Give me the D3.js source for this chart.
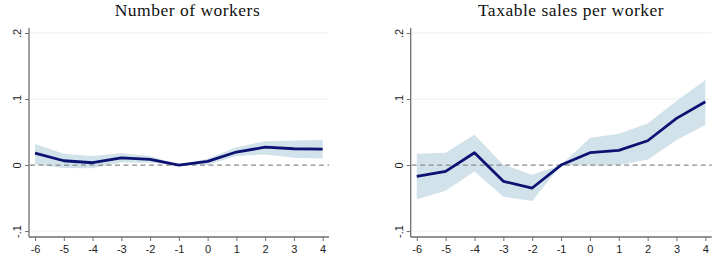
<!DOCTYPE html>
<html>
<head>
<meta charset="utf-8">
<script src="https://cdn.jsdelivr.net/npm/d3@7"></script>
<style>
  body { margin: 0; background: #fff; }
  svg { display: block; }
</style>
</head>
<body>
<svg id="chart" width="721" height="265"></svg>
<script>
// event time and estimates
const periods = [-6, -5, -4, -3, -2, -1, 0, 1, 2, 3, 4];

const workersEst   = [0.018, 0.0065, 0.0035, 0.011, 0.0086, 0, 0.0056, 0.0197, 0.027, 0.0247, 0.0242];
const workersLow   = [0.001, -0.0045, -0.005, 0.004, 0.0035, 0, 0.0005, 0.0136, 0.016, 0.011, 0.010];
const workersHigh  = [0.032, 0.017, 0.0136, 0.018, 0.0136, 0, 0.0096, 0.027, 0.036, 0.037, 0.038];

const salesEst  = [-0.0172, -0.0096, 0.0187, -0.0247, -0.0348, 0, 0.0187, 0.0222, 0.0368, 0.0707, 0.096];
const salesLow  = [-0.052, -0.039, -0.0096, -0.048, -0.0545, 0, -0.0005, 0, 0.008, 0.038, 0.0606];
const salesHigh = [0.017, 0.0187, 0.046, 0.0005, -0.0146, 0, 0.041, 0.0475, 0.063, 0.097, 0.129];

const yTicks = [-0.1, 0, 0.1, 0.2];
const yTickLabels = ["-.1", "0", ".1", ".2"];

const panels = [
  { title: "Number of workers", est: workersEst, low: workersLow, high: workersHigh, x0: 29, x1: 329, cx: 187.5 },
  { title: "Taxable sales per worker", est: salesEst, low: salesLow, high: salesHigh, x0: 410.7, x1: 711.7, cx: 571 }
];

const svg = d3.select("#chart");
const yTop = 28, yBot = 237;

for (const p of panels) {
  const x = d3.scaleLinear().domain([-6.21, 4.22]).range([p.x0, p.x1]);
  const y = d3.scaleLinear().domain([-0.109, 0.2076]).range([yBot, yTop]);
  const g = svg.append("g");

  // grid
  g.append("g")
    .selectAll("line")
    .data(yTicks.filter(d => d !== 0))
    .join("line")
    .attr("x1", p.x0 + 1)
    .attr("x2", p.x1)
    .attr("y1", d => y(d))
    .attr("y2", d => y(d))
    .attr("stroke", "#eaf0f2")
    .attr("stroke-width", 1);

  const rows = periods.map((t, i) => ({ t, est: p.est[i], low: p.low[i], high: p.high[i] }));

  // confidence band
  g.append("path")
    .datum(rows)
    .attr("fill", "#d1e2ea")
    .attr("d", d3.area().x(d => x(d.t)).y0(d => y(d.low)).y1(d => y(d.high)));

  // zero reference
  g.append("line")
    .attr("x1", p.x0 + 1)
    .attr("x2", p.x1)
    .attr("y1", y(0))
    .attr("y2", y(0))
    .attr("stroke", "#8a8a8a")
    .attr("stroke-width", 1.2)
    .attr("stroke-dasharray", "5,3.5");

  // estimate line
  g.append("path")
    .datum(rows)
    .attr("fill", "none")
    .attr("stroke", "#0b1272")
    .attr("stroke-width", 2.8)
    .attr("stroke-linejoin", "round")
    .attr("d", d3.line().x(d => x(d.t)).y(d => y(d.est)));

  // axes
  const yAxis = g.append("g")
    .attr("transform", `translate(${p.x0},0)`)
    .call(d3.axisLeft(y).tickValues(yTicks).tickFormat((d, i) => yTickLabels[i]).tickSize(4).tickPadding(6));
  yAxis.select(".domain").attr("d", `M0,${yTop}V${yBot}`).attr("stroke", "#6e6e6e").attr("stroke-width", 1.3);
  yAxis.selectAll(".tick line").attr("stroke", "#6e6e6e");
  yAxis.selectAll(".tick text")
    .attr("font-family", "Liberation Sans, Arial, sans-serif")
    .attr("font-size", 11)
    .attr("fill", "#222")
    .attr("text-anchor", "middle")
    .attr("dy", null)
    .attr("x", 0)
    .attr("transform", "translate(-11,0) rotate(-90)")
    .attr("dominant-baseline", "middle");

  const xAxis = g.append("g")
    .attr("transform", `translate(0,${yBot})`)
    .call(d3.axisBottom(x).tickValues(periods).tickFormat(d3.format("d")).tickSize(4).tickPadding(4));
  xAxis.select(".domain").attr("d", `M${p.x0},0H${p.x1}`).attr("stroke", "#6e6e6e").attr("stroke-width", 1.3);
  xAxis.selectAll(".tick line").attr("stroke", "#6e6e6e");
  xAxis.selectAll(".tick text")
    .attr("font-family", "Liberation Sans, Arial, sans-serif")
    .attr("font-size", 11)
    .attr("fill", "#222")
    .text(d => d < 0 ? "-" + Math.abs(d) : d);

  // title
  svg.append("text")
    .attr("x", p.cx)
    .attr("y", 16)
    .attr("text-anchor", "middle")
    .attr("font-family", "Liberation Serif, DejaVu Serif, serif")
    .attr("font-size", 17.5)
    .attr("letter-spacing", 0.5)
    .attr("fill", "#111")
    .text(p.title);
}
</script>
</body>
</html>
